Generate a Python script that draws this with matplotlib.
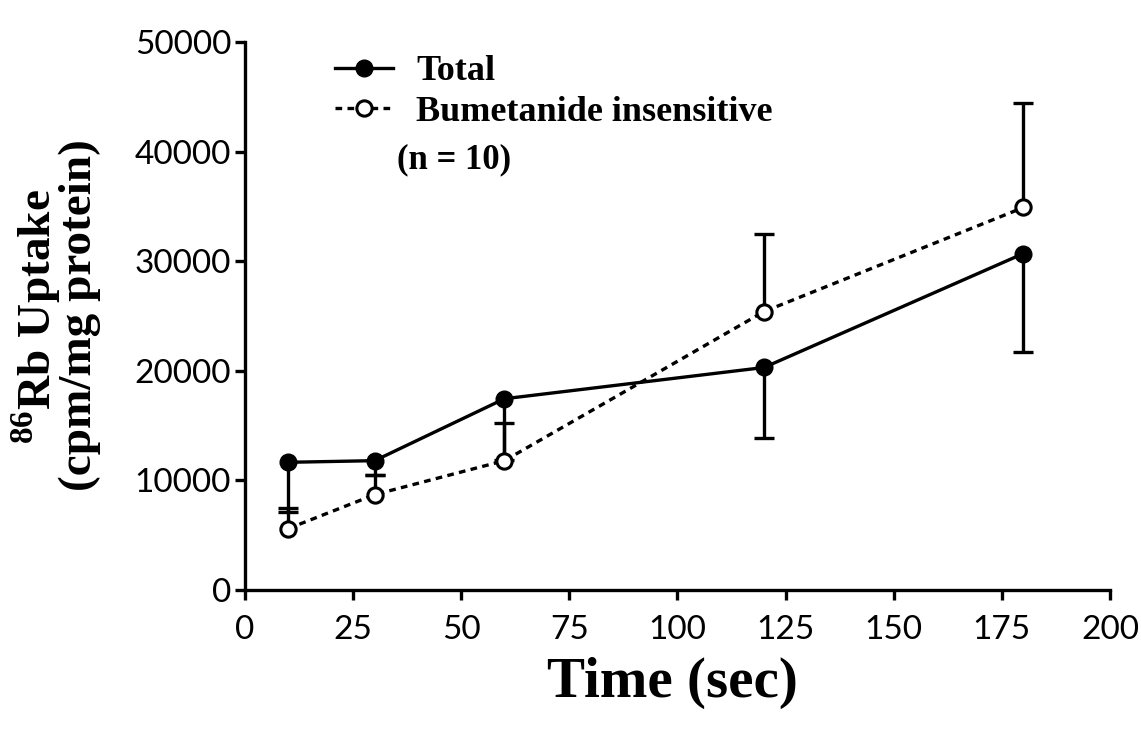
import matplotlib
matplotlib.use("Agg")
import matplotlib.pyplot as plt
import numpy as np

# Data
time_sec = [10, 30, 60, 120, 180]
total = [11650, 11800, 17450, 20300, 30700]
total_err = [4500, 1300, 5600, 6400, 9000]      # lower error bars
bumet = [5600, 8700, 11800, 25400, 34900]
bumet_err = [1900, 1800, 3400, 7100, 9500]      # upper error bars

xticks = [0, 25, 50, 75, 100, 125, 150, 175, 200]
yticks = [0, 10000, 20000, 30000, 40000, 50000]

plt.rcParams['mathtext.fontset'] = 'custom'
plt.rcParams['mathtext.rm'] = 'Liberation Serif:bold'
plt.rcParams['mathtext.bf'] = 'Liberation Serif:bold'

W, H = 1141, 729
fig = plt.figure(figsize=(W / 100, H / 100), dpi=100)
ax = fig.add_axes([0.2147, 0.1907, 0.7581, 0.7517])

lw = 2.4


def one_sided(y, err, down):
    zeros = [0] * len(y)
    yerr = [err, zeros] if down else [zeros, err]
    cont = ax.errorbar(time_sec, y, yerr=yerr, fmt='none', ecolor='black',
                       elinewidth=lw, capsize=7.5, capthick=lw)
    # hide the caps sitting on the points themselves
    for cap in cont[1]:
        if np.allclose(cap.get_ydata(), y):
            cap.set_visible(False)


one_sided(total, total_err, True)
one_sided(bumet, bumet_err, False)

ax.plot(time_sec, total, '-', color='black', lw=lw, marker='o', markersize=12,
        markerfacecolor='black', label='Total', zorder=3)
ax.plot(time_sec, bumet, color='black', lw=lw, ls=(0, (2.0, 1.6)), marker='o', markersize=11,
        markerfacecolor='white', markeredgewidth=2.2, label='Bumetanide insensitive', zorder=3)

ax.set_xlim(0, 200)
ax.set_ylim(0, 50000)
ax.set_xticks(xticks)
ax.set_yticks(yticks)
ax.spines['top'].set_visible(False)
ax.spines['right'].set_visible(False)
ax.spines['left'].set_linewidth(lw)
ax.spines['bottom'].set_linewidth(lw)
ax.tick_params(axis='both', direction='out', width=lw, length=7, labelsize=24)
ax.tick_params(axis='y', pad=3)
ax.tick_params(axis='x', pad=11)
for lab in ax.get_xticklabels() + ax.get_yticklabels():
    lab.set_family('Lato')

ax.set_xlabel('Time (sec)', family='Liberation Serif', fontweight='bold', fontsize=41)
ax.xaxis.set_label_coords(0.494, -0.122)

# two-line y label, each line placed on its own
fig.text(36 / W, 1 - 317 / H, r'$^{86}$Rb Uptake', family='Liberation Serif',
         fontweight='bold', fontsize=34, rotation=90, ha='center', va='center')
fig.text(80 / W, 1 - 315 / H, '(cpm/mg protein)', family='Liberation Serif',
         fontweight='bold', fontsize=34, rotation=90, ha='center', va='center')

leg = ax.legend(loc='upper left', bbox_to_anchor=(335 / W, 1 - 55 / H), bbox_transform=fig.transFigure,
                frameon=False, borderpad=0, borderaxespad=0, handlelength=1.6, handletextpad=0.64,
                labelspacing=0.2, prop={'family': 'Liberation Serif', 'size': 26, 'weight': 'bold'})
fig.text(397 / W, 1 - 160 / H, '(n = 10)', family='Liberation Serif', fontweight='bold', fontsize=25,
         va='center', ha='left')

fig.savefig('out.png', dpi=100)
